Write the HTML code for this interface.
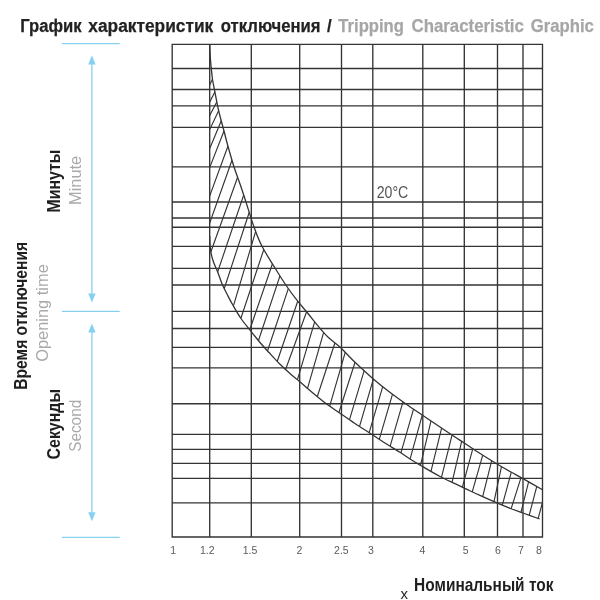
<!DOCTYPE html>
<html lang="ru"><head><meta charset="utf-8"><title>График характеристик отключения</title>
<style>html,body{margin:0;padding:0;background:#fff}body{width:600px;height:600px;overflow:hidden}svg{display:block;will-change:transform}text{font-family:"Liberation Sans",sans-serif}.b{font-weight:bold;fill:#1f1f1f}.g{fill:#a9a9a9}.n{fill:#5a5a5a;font-size:10.5px;text-anchor:middle}</style></head><body>
<svg width="600" height="600" viewBox="0 0 600 600">
<rect width="600" height="600" fill="#fff"/>
<g stroke="#343434" stroke-width="1.35" fill="none">
<path d="M172.2 43.8V537.5M209.7 43.8V537.5M251.3 43.8V537.5M299.7 43.8V537.5M341.5 43.8V537.5M372.8 43.8V537.5M422.8 43.8V537.5M464.3 43.8V537.5M497.5 43.8V537.5M523.0 43.8V537.5M542.5 43.8V537.5M171.7 44.3H543.0M171.7 68.5H543.0M171.7 89.5H543.0M171.7 105.8H543.0M171.7 127.3H543.0M171.7 166.8H543.0M171.7 202.0H543.0M171.7 218.0H543.0M171.7 227.2H543.0M171.7 246.3H543.0M171.7 268.3H543.0M171.7 285.0H543.0M171.7 311.3H543.0M171.7 328.5H543.0M171.7 347.3H543.0M171.7 367.8H543.0M171.7 403.7H543.0M171.7 434.3H543.0M171.7 449.3H543.0M171.7 463.3H543.0M171.7 478.3H543.0M171.7 502.8H543.0M171.7 537.0H543.0"/>
</g>
<defs><clipPath id="band"><path d="M209.70 44.30 C209.78 46.25 209.93 51.93 210.20 56.00 C210.47 60.07 210.90 64.70 211.30 68.70 C211.70 72.70 212.02 76.20 212.60 80.00 C213.18 83.80 213.80 86.42 214.80 91.50 C215.80 96.58 217.07 103.92 218.60 110.50 C220.13 117.08 222.45 125.08 224.00 131.00 C225.55 136.92 226.20 139.92 227.90 146.00 C229.60 152.08 232.15 161.08 234.20 167.50 C236.25 173.92 238.32 179.00 240.20 184.50 C242.08 190.00 243.20 193.42 245.50 200.50 C247.80 207.58 251.25 219.37 254.00 227.00 C256.75 234.63 258.50 239.47 262.00 246.30 C265.50 253.13 270.92 261.38 275.00 268.00 C279.08 274.62 282.78 280.55 286.50 286.00 C290.22 291.45 293.72 296.12 297.30 300.70 C300.88 305.28 304.22 308.90 308.00 313.50 C311.78 318.10 316.50 324.22 320.00 328.30 C323.50 332.38 325.58 334.80 329.00 338.00 C332.42 341.20 336.17 343.45 340.50 347.50 C344.83 351.55 349.58 357.10 355.00 362.30 C360.42 367.50 367.25 373.75 373.00 378.70 C378.75 383.65 384.00 387.78 389.50 392.00 C395.00 396.22 400.50 400.13 406.00 404.00 C411.50 407.87 416.83 411.37 422.50 415.20 C428.17 419.03 434.58 423.37 440.00 427.00 C445.42 430.63 450.95 434.33 455.00 437.00 C459.05 439.67 460.05 440.22 464.30 443.00 C468.55 445.78 474.97 450.17 480.50 453.70 C486.03 457.23 492.50 461.18 497.50 464.20 C502.50 467.22 506.25 469.40 510.50 471.80 C514.75 474.20 517.67 475.60 523.00 478.60 C528.33 481.60 539.25 487.93 542.50 489.80 L542.6 521 L539.70 519.00 C536.92 518.00 527.87 514.75 523.00 513.00 C518.13 511.25 514.75 510.13 510.50 508.50 C506.25 506.87 502.50 505.33 497.50 503.20 C492.50 501.07 485.58 498.00 480.50 495.70 C475.42 493.40 471.25 491.40 467.00 489.40 C462.75 487.40 459.50 485.85 455.00 483.70 C450.50 481.55 445.38 479.33 440.00 476.50 C434.62 473.67 427.70 469.62 422.70 466.70 C417.70 463.78 413.78 461.40 410.00 459.00 C406.22 456.60 404.17 454.97 400.00 452.30 C395.83 449.63 390.00 446.18 385.00 443.00 C380.00 439.82 375.00 436.45 370.00 433.20 C365.00 429.95 360.00 426.83 355.00 423.50 C350.00 420.17 345.00 416.67 340.00 413.20 C335.00 409.73 330.00 406.48 325.00 402.70 C320.00 398.92 314.28 394.08 310.00 390.50 C305.72 386.92 302.63 384.03 299.30 381.20 C295.97 378.37 293.30 376.42 290.00 373.50 C286.70 370.58 283.00 367.20 279.50 363.70 C276.00 360.20 272.25 356.03 269.00 352.50 C265.75 348.97 263.08 346.13 260.00 342.50 C256.92 338.87 253.67 334.70 250.50 330.70 C247.33 326.70 243.92 322.73 241.00 318.50 C238.08 314.27 235.25 309.22 233.00 305.30 C230.75 301.38 229.28 298.47 227.50 295.00 C225.72 291.53 223.97 288.42 222.30 284.50 C220.63 280.58 218.97 275.25 217.50 271.50 C216.03 267.75 214.58 265.08 213.50 262.00 C212.42 258.92 211.58 255.83 211.00 253.00 C210.42 250.17 210.22 247.83 210.00 245.00 C209.78 242.17 209.75 237.50 209.70 236.00 Z"/></clipPath></defs>
<path d="M214.01 75.88L207.99 88.62M216.62 88.44L207.88 105.56M218.35 98.96L207.85 119.04M220.41 106.89L207.99 133.11M222.54 117.81L208.16 152.19M225.46 127.28L208.24 171.22M229.37 142.24L208.33 199.76M233.04 157.23L208.36 226.77M239.05 173.23L209.45 255.77M244.98 191.21L216.52 275.29M250.25 209.20L223.05 292.20M256.65 228.17L232.45 309.13M264.56 247.20L239.74 321.80M273.30 261.22L248.40 333.78M280.96 272.90L257.24 344.30M289.57 284.91L266.23 354.79M298.99 297.51L275.91 365.29M307.87 308.24L284.13 373.46M315.84 317.87L296.36 383.33M324.81 328.46L306.59 391.54M335.95 339.70L316.25 399.80M346.31 348.66L328.69 409.54M356.22 358.49L337.98 415.51M365.15 367.37L348.55 422.83M374.42 375.46L358.38 430.34M383.83 382.86L368.07 436.34M393.63 390.36L378.17 443.04M404.11 397.86L389.09 449.84M414.61 405.36L399.89 456.34M423.37 411.15L408.93 463.05M431.92 417.11L419.58 469.09M442.46 424.62L430.04 475.08M452.97 431.32L440.53 481.08M462.61 437.31L451.09 486.39M474.05 444.14L461.45 490.56M483.80 451.35L471.10 495.85M492.68 456.92L481.72 500.38M502.33 462.59L493.17 505.61M512.25 468.64L501.15 509.36M522.21 473.89L509.99 512.31M529.47 478.32L520.03 516.08M537.72 482.83L528.18 519.07M542.30 503.20L537.15 522.06" stroke="#343434" stroke-width="1.15" fill="none" clip-path="url(#band)"/>
<path d="M209.70 44.30 C209.78 46.25 209.93 51.93 210.20 56.00 C210.47 60.07 210.90 64.70 211.30 68.70 C211.70 72.70 212.02 76.20 212.60 80.00 C213.18 83.80 213.80 86.42 214.80 91.50 C215.80 96.58 217.07 103.92 218.60 110.50 C220.13 117.08 222.45 125.08 224.00 131.00 C225.55 136.92 226.20 139.92 227.90 146.00 C229.60 152.08 232.15 161.08 234.20 167.50 C236.25 173.92 238.32 179.00 240.20 184.50 C242.08 190.00 243.20 193.42 245.50 200.50 C247.80 207.58 251.25 219.37 254.00 227.00 C256.75 234.63 258.50 239.47 262.00 246.30 C265.50 253.13 270.92 261.38 275.00 268.00 C279.08 274.62 282.78 280.55 286.50 286.00 C290.22 291.45 293.72 296.12 297.30 300.70 C300.88 305.28 304.22 308.90 308.00 313.50 C311.78 318.10 316.50 324.22 320.00 328.30 C323.50 332.38 325.58 334.80 329.00 338.00 C332.42 341.20 336.17 343.45 340.50 347.50 C344.83 351.55 349.58 357.10 355.00 362.30 C360.42 367.50 367.25 373.75 373.00 378.70 C378.75 383.65 384.00 387.78 389.50 392.00 C395.00 396.22 400.50 400.13 406.00 404.00 C411.50 407.87 416.83 411.37 422.50 415.20 C428.17 419.03 434.58 423.37 440.00 427.00 C445.42 430.63 450.95 434.33 455.00 437.00 C459.05 439.67 460.05 440.22 464.30 443.00 C468.55 445.78 474.97 450.17 480.50 453.70 C486.03 457.23 492.50 461.18 497.50 464.20 C502.50 467.22 506.25 469.40 510.50 471.80 C514.75 474.20 517.67 475.60 523.00 478.60 C528.33 481.60 539.25 487.93 542.50 489.80" stroke="#343434" stroke-width="1.3" fill="none"/>
<path d="M209.70 236.00 C209.75 237.50 209.78 242.17 210.00 245.00 C210.22 247.83 210.42 250.17 211.00 253.00 C211.58 255.83 212.42 258.92 213.50 262.00 C214.58 265.08 216.03 267.75 217.50 271.50 C218.97 275.25 220.63 280.58 222.30 284.50 C223.97 288.42 225.72 291.53 227.50 295.00 C229.28 298.47 230.75 301.38 233.00 305.30 C235.25 309.22 238.08 314.27 241.00 318.50 C243.92 322.73 247.33 326.70 250.50 330.70 C253.67 334.70 256.92 338.87 260.00 342.50 C263.08 346.13 265.75 348.97 269.00 352.50 C272.25 356.03 276.00 360.20 279.50 363.70 C283.00 367.20 286.70 370.58 290.00 373.50 C293.30 376.42 295.97 378.37 299.30 381.20 C302.63 384.03 305.72 386.92 310.00 390.50 C314.28 394.08 320.00 398.92 325.00 402.70 C330.00 406.48 335.00 409.73 340.00 413.20 C345.00 416.67 350.00 420.17 355.00 423.50 C360.00 426.83 365.00 429.95 370.00 433.20 C375.00 436.45 380.00 439.82 385.00 443.00 C390.00 446.18 395.83 449.63 400.00 452.30 C404.17 454.97 406.22 456.60 410.00 459.00 C413.78 461.40 417.70 463.78 422.70 466.70 C427.70 469.62 434.62 473.67 440.00 476.50 C445.38 479.33 450.50 481.55 455.00 483.70 C459.50 485.85 462.75 487.40 467.00 489.40 C471.25 491.40 475.42 493.40 480.50 495.70 C485.58 498.00 492.50 501.07 497.50 503.20 C502.50 505.33 506.25 506.87 510.50 508.50 C514.75 510.13 518.13 511.25 523.00 513.00 C527.87 514.75 536.92 518.00 539.70 519.00" stroke="#343434" stroke-width="1.3" fill="none"/>
<g stroke="#86d1f0" stroke-width="1.3" fill="none">
<path d="M62 43.6H119.7M62 311.3H119.7M62 537.4H119.7"/>
<path d="M91.9 62V296M91.9 330V515"/>
</g>
<g fill="#86d1f0">
<path d="M91.9 55.3L95.6 64.6H88.2Z"/>
<path d="M91.9 302.6L95.6 293.5H88.2Z"/>
<path d="M91.9 323.5L95.6 332.6H88.2Z"/>
<path d="M91.9 521.3L95.6 512.3H88.2Z"/>
</g>
<text x="20.20" y="32.3" font-size="19.2" textLength="61.40" lengthAdjust="spacingAndGlyphs" font-weight="bold" fill="#222" stroke="#222" stroke-width="0.25">График</text>
<text x="88.30" y="32.3" font-size="19.2" textLength="125.00" lengthAdjust="spacingAndGlyphs" font-weight="bold" fill="#222" stroke="#222" stroke-width="0.25">характеристик</text>
<text x="220.80" y="32.3" font-size="19.2" textLength="99.70" lengthAdjust="spacingAndGlyphs" font-weight="bold" fill="#222" stroke="#222" stroke-width="0.25">отключения</text>
<text x="327.00" y="32.3" font-size="19.2" textLength="4.70" lengthAdjust="spacingAndGlyphs" font-weight="bold" fill="#222" stroke="#222" stroke-width="0.25">/</text>
<text x="338.30" y="32.3" font-size="19.2" textLength="65.60" lengthAdjust="spacingAndGlyphs" font-weight="bold" fill="#a6a6a6" stroke="#a6a6a6" stroke-width="0.25">Tripping</text>
<text x="411.50" y="32.3" font-size="19.2" textLength="112.30" lengthAdjust="spacingAndGlyphs" font-weight="bold" fill="#a6a6a6" stroke="#a6a6a6" stroke-width="0.25">Characteristic</text>
<text x="530.70" y="32.3" font-size="19.2" textLength="63.20" lengthAdjust="spacingAndGlyphs" font-weight="bold" fill="#a6a6a6" stroke="#a6a6a6" stroke-width="0.25">Graphic</text>
<text class="b" transform="translate(60.4 181.0) rotate(-90)" font-size="18.8" text-anchor="middle" textLength="62.8" lengthAdjust="spacingAndGlyphs">Минуты</text>
<text class="g" transform="translate(81.2 180.4) rotate(-90)" font-size="16.5" text-anchor="middle" textLength="49.2" lengthAdjust="spacingAndGlyphs">Minute</text>
<text class="b" transform="translate(26.5 315.8) rotate(-90)" font-size="18.8" text-anchor="middle" textLength="148.0" lengthAdjust="spacingAndGlyphs">Время отключения</text>
<text class="g" transform="translate(48.3 313.0) rotate(-90)" font-size="16.5" text-anchor="middle" textLength="97.6" lengthAdjust="spacingAndGlyphs">Opening time</text>
<text class="b" transform="translate(60.2 424.2) rotate(-90)" font-size="18.8" text-anchor="middle" textLength="70.6" lengthAdjust="spacingAndGlyphs">Секунды</text>
<text class="g" transform="translate(80.8 425.8) rotate(-90)" font-size="16.5" text-anchor="middle" textLength="52.0" lengthAdjust="spacingAndGlyphs">Second</text>
<text class="n" x="173.2" y="554.4">1</text>
<text class="n" x="207.3" y="554.4">1.2</text>
<text class="n" x="250.0" y="554.4">1.5</text>
<text class="n" x="299.5" y="554.4">2</text>
<text class="n" x="341.4" y="554.4">2.5</text>
<text class="n" x="371.0" y="554.4">3</text>
<text class="n" x="422.3" y="554.4">4</text>
<text class="n" x="465.6" y="554.4">5</text>
<text class="n" x="497.8" y="554.4">6</text>
<text class="n" x="520.8" y="554.4">7</text>
<text class="n" x="539.0" y="554.4">8</text>
<text x="376.7" y="197.5" font-size="16.4" fill="#555" textLength="31.6" lengthAdjust="spacingAndGlyphs">20°C</text>
<text x="400.5" y="598.7" font-size="15" fill="#2a2a2a">x</text>
<text class="b" x="414.1" y="590.7" font-size="19" textLength="139.3" lengthAdjust="spacingAndGlyphs">Номинальный ток</text>
<text class="g" x="414.5" y="611.9" font-size="16.5" textLength="112" lengthAdjust="spacingAndGlyphs">Nominal current</text>
</svg></body></html>
